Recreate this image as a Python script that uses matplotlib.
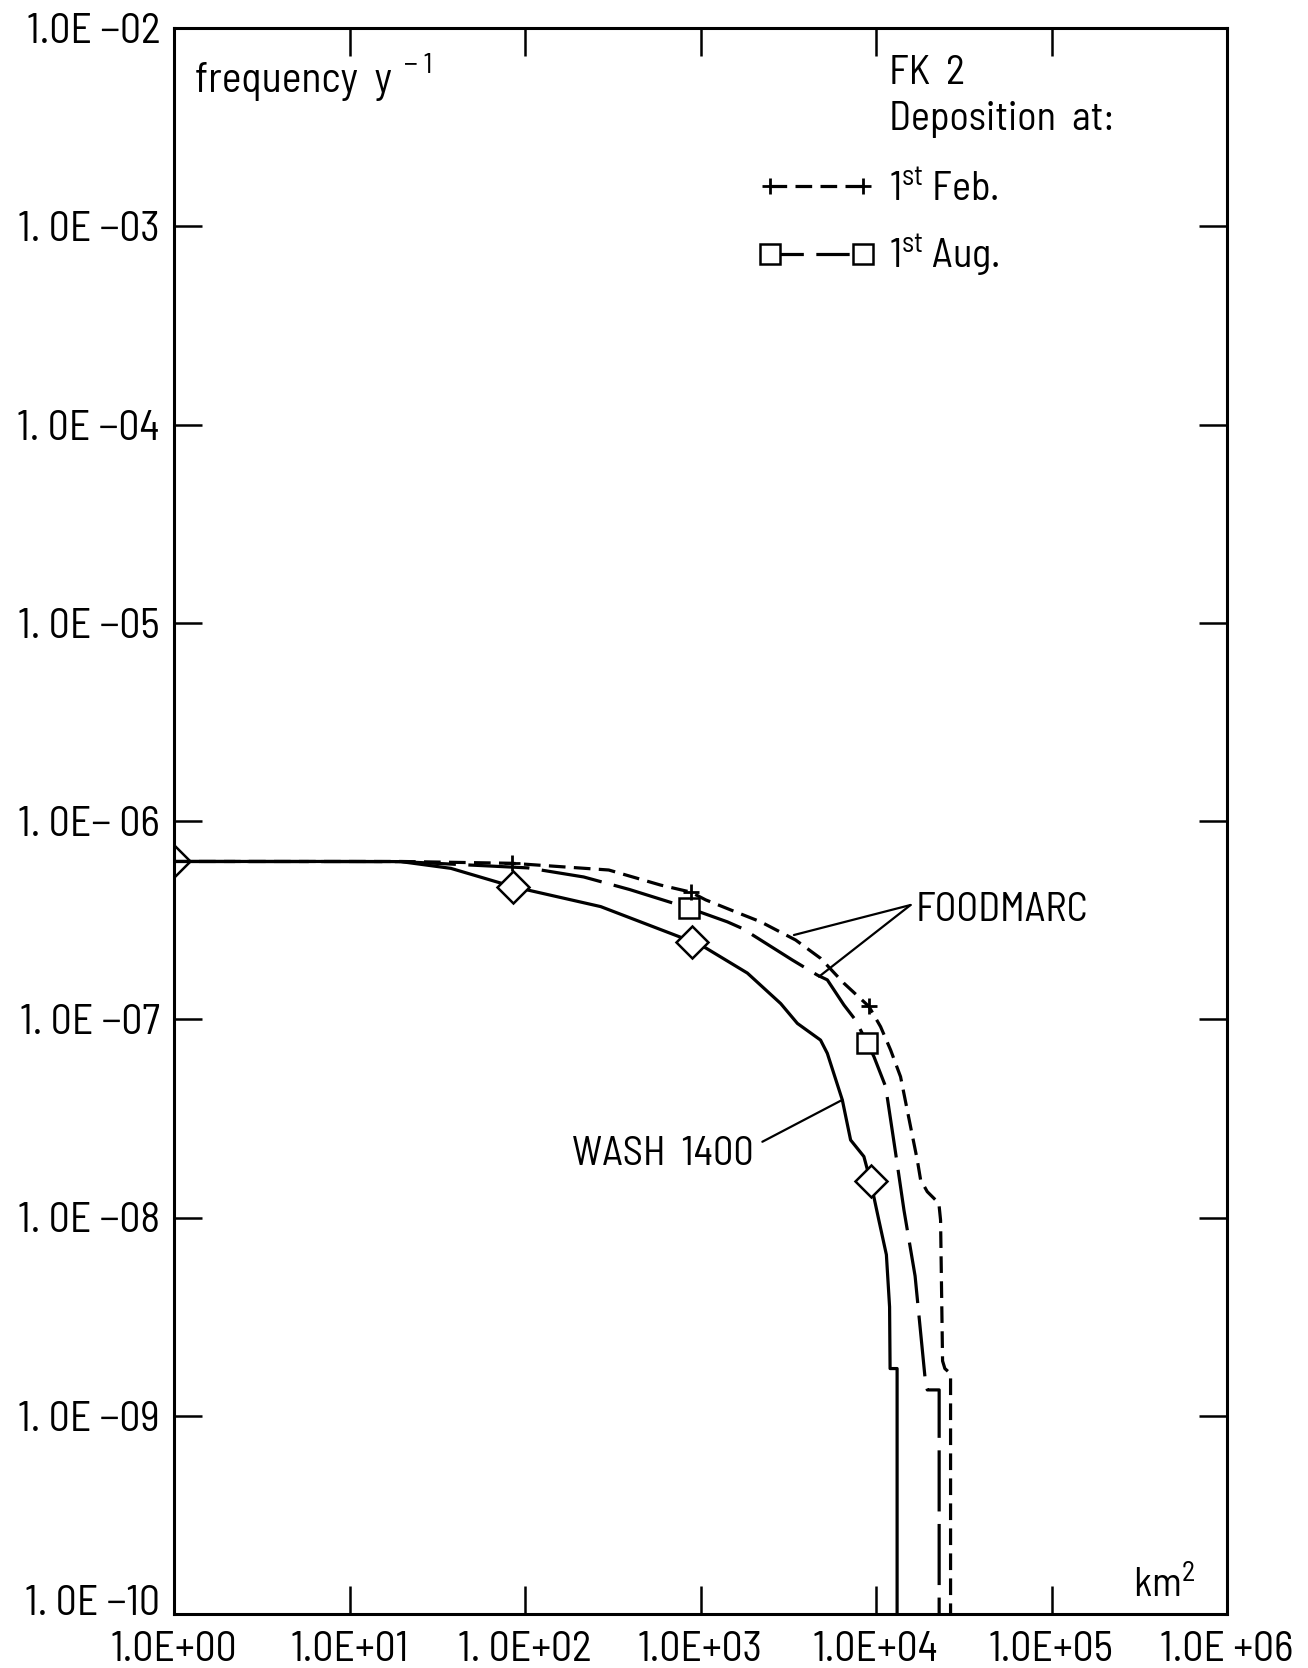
import matplotlib
matplotlib.use('Agg')
import matplotlib.pyplot as plt
import matplotlib.transforms as mtransforms
from matplotlib.lines import Line2D

FONT = ['Barlow Semi Condensed', 'DejaVu Sans']
plt.rcParams['font.family'] = FONT
plt.rcParams['mathtext.fontset'] = 'custom'
plt.rcParams['mathtext.rm'] = 'Barlow Semi Condensed'
plt.rcParams['mathtext.it'] = 'Barlow Semi Condensed'
plt.rcParams['mathtext.default'] = 'rm'
plt.rcParams['lines.scale_dashes'] = False

# ---------------- data ----------------
x_ticks = [1e0, 1e1, 1e2, 1e3, 1e4, 1e5, 1e6]
x_labels = ['1.0E+00', '1.0E+01', '1. 0E+02', '1.0E+03', '1.0E+04', '1.0E+05', '1.0E +06']
y_ticks = [1e-10, 1e-9, 1e-8, 1e-7, 1e-6, 1e-5, 1e-4, 1e-3, 1e-2]
y_labels = ['1. 0E −10', '1. 0E −09', '1. 0E −08', '1. 0E −07', '1. 0E− 06',
            '1. 0E −05', '1. 0E −04', '1. 0E −03', '1.0E −02']

# WASH 1400 (solid, diamonds)
wash_x = [1, 10, 19.6, 37.8, 84.9, 270, 899, 1071, 1849, 2864, 3564, 4831, 5280,
          6427, 7166, 8531, 9310, 10380, 11460, 11950, 12030, 13190, 13190]
wash_y = [6.25e-7, 6.25e-7, 6.24e-7, 5.77e-7, 4.67e-7, 3.70e-7, 2.46e-7, 2.29e-7,
          1.71e-7, 1.20e-7, 9.53e-8, 7.85e-8, 6.73e-8, 3.92e-8, 2.46e-8, 2.03e-8,
          1.52e-8, 9.7e-9, 6.49e-9, 3.54e-9, 1.73e-9, 1.73e-9, 1e-10]
wash_marks = [0, 4, 6, 16]

# FOODMARC, deposition 1st Aug. (long dashes, squares)
aug_x = [1, 19.6, 104, 216, 395, 857, 1422, 1732, 3336, 4632, 5280, 6566, 7650,
         8920, 9730, 11350, 12940, 14430, 16700, 19150, 19600, 22900, 22900]
aug_y = [6.25e-7, 6.24e-7, 5.80e-7, 5.22e-7, 4.51e-7, 3.64e-7, 3.10e-7, 2.87e-7,
         1.99e-7, 1.67e-7, 1.58e-7, 1.18e-7, 9.9e-8, 7.56e-8, 6.48e-8, 4.57e-8,
         2.11e-8, 1.09e-8, 5.07e-9, 1.47e-9, 1.35e-9, 1.35e-9, 1e-10]
aug_marks = [5, 13]

# FOODMARC, deposition 1st Feb. (short dashes, plus)
feb_x = [1, 19.6, 84.1, 300, 593, 879, 1071, 1486, 2203, 3484, 4831, 6561, 9116,
         10620, 12110, 13800, 15740, 17190, 17950, 19590, 22810, 23330, 23950,
         24680, 26600, 26600]
feb_y = [6.25e-7, 6.25e-7, 6.12e-7, 5.66e-7, 4.75e-7, 4.38e-7, 4.00e-7, 3.56e-7,
         3.10e-7, 2.51e-7, 2.03e-7, 1.52e-7, 1.16e-7, 9.17e-8, 7.0e-8, 5.13e-8,
         2.87e-8, 1.95e-8, 1.55e-8, 1.35e-8, 1.18e-8, 9.7e-9, 1.89e-9, 1.73e-9,
         1.63e-9, 1e-10]
feb_marks = [2, 5, 12]

series_labels = ['1$^{st}$ Feb.', '1$^{st}$ Aug.']

# ---------------- figure ----------------
W, H = 1308, 1668
fig = plt.figure(figsize=(W / 100, H / 100), dpi=100)
ax = fig.add_axes([174 / W, 54 / H, 1053 / W, 1586 / H])
ax.set_xscale('log')
ax.set_yscale('log')
ax.set_xlim(1, 1e6)
ax.set_ylim(1e-10, 1e-2)

LW = 2.3
SHORT = (0, (12, 6))
LONG = (0, (44, 9))

ax.plot(wash_x, wash_y, color='black', lw=LW, ls='-', marker='D', markevery=wash_marks,
        ms=16, mfc='white', mec='black', mew=1.8, solid_joinstyle='round')
ax.plot(aug_x, aug_y, color='black', lw=LW, ls=LONG, marker='s', markevery=aug_marks,
        ms=15, mfc='white', mec='black', mew=1.8)
ax.plot(feb_x, feb_y, color='black', lw=LW, ls=SHORT, marker='+', markevery=feb_marks,
        ms=12, mec='black', mew=2.0)

# axes styling
for sp in ax.spines.values():
    sp.set_linewidth(2.2)
ax.set_xticks(x_ticks, x_labels)
ax.set_yticks(y_ticks, y_labels)
ax.minorticks_off()
ax.tick_params(which='major', direction='in', length=20, width=1.8,
               top=True, right=True, labeltop=False, labelright=False,
               labelsize=30)
ax.tick_params(axis='x', pad=12)
ax.tick_params(axis='y', pad=10)

# the lowest y label sits a little above its tick, as in the original
lowest = ax.get_yticklabels()[0]
lowest.set_transform(lowest.get_transform() +
                     mtransforms.ScaledTranslation(0, 14 / 100, fig.dpi_scale_trans))

# annotations
TXT = 29
ax.text(0.020, 0.966, 'frequency  y', transform=ax.transAxes, fontsize=30,
        ha='left', va='center')
ax.text(0.218, 0.976, '− 1', transform=ax.transAxes, fontsize=21,
        ha='left', va='center')
ax.text(0.679, 0.971, 'FK  2', transform=ax.transAxes, fontsize=TXT, ha='left', va='center')
ax.text(0.679, 0.942, 'Deposition  at:', transform=ax.transAxes, fontsize=TXT,
        ha='left', va='center')
ax.text(0.911, 0.006, 'km$^2$', transform=ax.transAxes, fontsize=TXT, ha='left', va='bottom')

lp = dict(arrowstyle='-', lw=1.6, color='black', shrinkA=0, shrinkB=0)
ax.annotate('', xy=(3407, 2.66e-7), xytext=(15740, 3.77e-7), arrowprops=lp)
ax.annotate('', xy=(4732, 1.64e-7), xytext=(15740, 3.77e-7), arrowprops=lp)
ax.text(16820, 3.55e-7, 'FOODMARC', fontsize=TXT, ha='left', va='center')
ax.annotate('', xy=(6427, 3.92e-8), xytext=(2251, 2.41e-8), arrowprops=lp)
ax.text(2009, 2.07e-8, 'WASH  1400', fontsize=TXT, ha='right', va='center')

# legend (proxy handles with the same styles as the curves)
h_feb = Line2D([], [], color='black', lw=LW, ls=SHORT, marker='+', ms=12, mew=2.0)
h_aug = Line2D([], [], color='black', lw=LW, ls=(0, (24, 9)), marker='s', ms=15,
               mfc='white', mew=1.8)
ax.legend([h_feb, h_aug], series_labels, loc='upper left',
          bbox_to_anchor=(0.555, 0.91), frameon=False, fontsize=TXT,
          numpoints=2, handlelength=2.9, handletextpad=0.35, labelspacing=0.6,
          borderpad=0, borderaxespad=0)

fig.savefig('out.png', dpi=100)
